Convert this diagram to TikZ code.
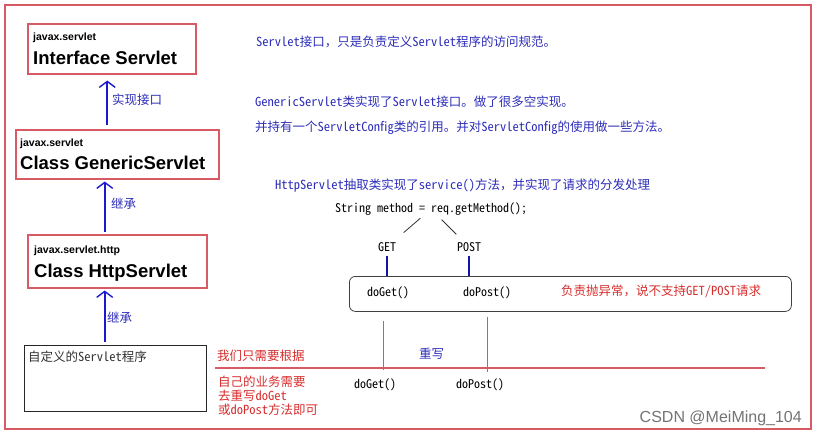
\documentclass[tikz,border=0pt]{standalone}
\usepackage{fontspec}
\setmainfont{Liberation Sans}
\newfontfamily\cjk[RawFeature=+hwid]{Noto Sans CJK SC}
\newfontfamily\cjkfull{Noto Sans CJK SC}
\newcommand\fwcomma{{\cjkfull ，}}
\usetikzlibrary{arrows.meta}

\definecolor{notesblue}{RGB}{45,45,185}
\definecolor{arrowblue}{RGB}{25,25,210}
\definecolor{notesred}{RGB}{215,45,45}
\definecolor{framered}{RGB}{215,90,100}
\definecolor{overpurple}{RGB}{120,110,215}

\begin{document}
\begin{tikzpicture}[x=1pt,y=-1pt,
  classbox/.style={draw=framered,line width=1.5pt,fill=white,anchor=north west,inner sep=0pt},
  userbox/.style={draw=black!85,line width=1.4pt,fill=white,anchor=north west,inner sep=0pt},
  pkgtext/.style={anchor=base west,inner sep=0pt,font=\bfseries\fontsize{10.5}{12}\selectfont},
  nametext/.style={anchor=base west,inner sep=0pt,font=\bfseries\fontsize{18.5}{22}\selectfont},
  notetext/.style={anchor=west,inner sep=0pt,font=\cjk\fontsize{12.5}{15}\selectfont},
  codetext/.style={inner sep=2pt,font=\cjk\fontsize{12}{14}\selectfont},
  inherit/.style={draw=arrowblue,line width=1.6pt,-{Straight Barb[length=6pt,width=16pt,line width=1.4pt]}},
  fork/.style={draw=black!80,line width=0.8pt},
  dispatch/.style={draw=arrowblue!80!black,line width=1.6pt},
  override/.style={draw=overpurple,line width=0.8pt}]

  \useasboundingbox (0,0) rectangle (815,437);
  % outer frame
  \draw[framered,line width=1.5pt] (5,5) rectangle (811,429);

  % class hierarchy
  \node[classbox,minimum width=168pt,minimum height=50pt] (servlet) at (27,23) {};
  \node[pkgtext] (servlet-pkg) at (33,40) {javax.servlet};
  \node[nametext] (servlet-name) at (33,64) {Interface Servlet};

  \node[classbox,minimum width=203pt,minimum height=49pt] (generic) at (15,129) {};
  \node[pkgtext] (generic-pkg) at (20,146) {javax.servlet};
  \node[nametext] (generic-name) at (20,169) {Class GenericServlet};

  \node[classbox,minimum width=179pt,minimum height=53pt] (http) at (27,234) {};
  \node[pkgtext] (http-pkg) at (34,253) {javax.servlet.http};
  \node[nametext] (http-name) at (34,277) {Class HttpServlet};

  \node[userbox,minimum width=182pt,minimum height=66pt] (myservlet) at (24,345) {};
  \node[notetext,text=black!80] (myservlet-text) at (28,357) {自定义的Servlet程序};

  % inheritance arrows
  \coordinate (a1) at ([xshift=-10pt]generic.north);
  \coordinate (a2) at ([xshift=-12.5pt]http.north);
  \coordinate (a3) at ([xshift=-11pt]myservlet.north);
  \draw[inherit,shorten <=4pt,shorten >=6pt] (a1) -- (a1 |- servlet.south);
  \draw[inherit,shorten <=2pt,shorten >=2pt] (a2) -- (a2 |- generic.south);
  \draw[inherit,shorten <=3pt,shorten >=2pt] (a3) -- (a3 |- http.south);
  \node[notetext,text=notesblue] (impl-label) at (112,100) {实现接口};
  \node[notetext,text=notesblue] (extend-label1) at (111,204) {继承};
  \node[notetext,text=notesblue] (extend-label2) at (107,318) {继承};

  % notes on the right
  \node[notetext,text=notesblue] (servlet-note) at (256,42) {Servlet接口\fwcomma 只是负责定义Servlet程序的访问规范。};
  \node[notetext,text=notesblue] (generic-note1) at (255,102) {GenericServlet类实现了Servlet接口。做了很多空实现。};
  \node[notetext,text=notesblue] (generic-note2) at (255,128) {并持有一个ServletConfig类的引用。并对ServletConfig的使用做一些方法。};
  \node[notetext,text=notesblue] (http-note) at (275,186) {HttpServlet抽取类实现了service()方法\fwcomma 并实现了请求的分发处理};

  % dispatch by method
  \node[codetext] (method) at (431,209) {String method = req.getMethod();};
  \node[codetext] (get) at (387,247) {GET};
  \node[codetext] (post) at (469,247) {POST};
  \draw[fork,shorten <=14pt,shorten >=22pt] (method.center) -- (get.center);
  \draw[fork,shorten <=15pt,shorten >=18pt] (method.center) -- (post.center);

  \node[draw=black!75,line width=0.8pt,rounded corners=6pt,anchor=north west,
    minimum width=442pt,minimum height=35pt] (handler) at (349,276) {};
  \node[codetext,anchor=west] (doget) at (365,293) {doGet()};
  \node[codetext,anchor=west] (dopost) at (461,293) {doPost()};
  \node[notetext,text=notesred] (error-note) at (561,291) {负责抛异常\fwcomma 说不支持GET/POST请求};
  \draw[dispatch,shorten <=2pt] (get.south) -- (get.south |- handler.north);
  \draw[dispatch,shorten <=2pt] (post.south) -- (post.south |- handler.north);

  % overriding
  \coordinate (over-get) at (383,370);
  \coordinate (over-post) at (487,372);
  \draw[override,shorten <=9pt] (handler.south -| over-get) -- (over-get);
  \draw[override,shorten <=5pt] (handler.south -| over-post) -- (over-post);
  \draw[framered,line width=1.2pt] (215,368) -- (765,368);
  \node[notetext,text=notesblue] (override-label) at (419,354) {重写};
  \node[notetext,text=notesred] (need-note1) at (217,356) {我们只需要根据};
  \node[notetext,text=notesred,align=left,font=\cjk\fontsize{12.5}{14}\selectfont] (need-note2) at (218,396)
    {自己的业务需要\\去重写doGet\\或doPost方法即可};
  \node[codetext,anchor=west] (over-doget) at (352,385) {doGet()};
  \node[codetext,anchor=west] (over-dopost) at (454,385) {doPost()};

  \node[anchor=east,inner sep=0pt,text=black!55,font=\fontsize{16}{18}\selectfont] (watermark) at (802,418) {CSDN @MeiMing\_104};
\end{tikzpicture}
\end{document}
